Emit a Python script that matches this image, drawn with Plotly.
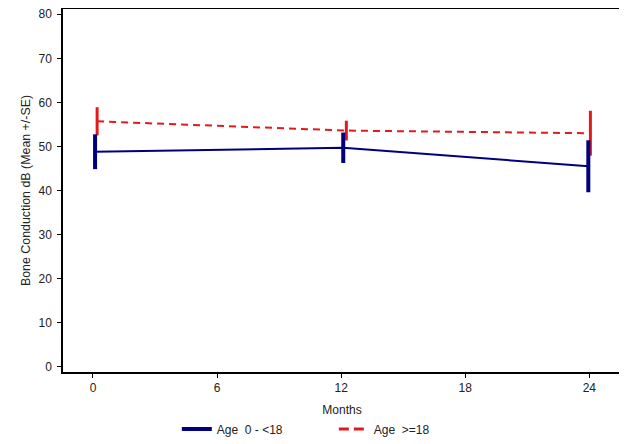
import plotly.graph_objects as go

months_young = [0.1, 12.1, 23.95]
mean_young = [48.8, 49.7, 45.5]
se_young = [3.95, 3.45, 5.9]

months_adult = [0.2, 12.25, 24.05]
mean_adult = [55.7, 53.6, 53.0]
se_adult = [3.2, 2.25, 5.1]

x_ticks = [0, 6, 12, 18, 24]
y_ticks = [0, 10, 20, 30, 40, 50, 60, 70, 80]

NAVY = "#00007F"
RED = "#E31A1C"
FONT = "Liberation Sans Narrow, Arial Narrow, Liberation Sans, Arial, sans-serif"

fig = go.Figure()

fig.add_trace(go.Scatter(
    x=months_adult, y=mean_adult, mode="lines", showlegend=False,
    line=dict(color=RED, width=2, dash="7px,5px"),
    error_y=dict(type="data", array=se_adult, color=RED, thickness=3, width=0),
))
fig.add_trace(go.Scatter(
    x=months_young, y=mean_young, mode="lines", showlegend=False,
    line=dict(color=NAVY, width=2),
    error_y=dict(type="data", array=se_young, color=NAVY, thickness=4, width=0),
))
# legend entries
fig.add_trace(go.Scatter(
    x=[None], y=[None], mode="lines", name="Age  0 - <18",
    line=dict(color=NAVY, width=4),
))
fig.add_trace(go.Scatter(
    x=[None], y=[None], mode="lines", name="Age  >=18",
    line=dict(color=RED, width=3, dash="10px,5px"),
))

# page body adds an 8px offset, so the figure is sized to fit the window
fig.update_layout(
    width=619, height=436,
    margin=dict(l=55, r=6, t=1, b=72),
    paper_bgcolor="white", plot_bgcolor="white",
    font=dict(family=FONT, size=12, color="#222"),
    legend=dict(
        orientation="h", x=0.204, xanchor="left", y=-0.157, yanchor="middle",
        font=dict(family=FONT, size=12), entrywidth=112,
        bgcolor="rgba(0,0,0,0)",
    ),
)
fig.update_xaxes(
    range=[-1.45, 25.53], tickvals=x_ticks, ticks="outside", ticklen=4,
    tickcolor="black", showline=True, linecolor="black", linewidth=1.5,
    mirror=True, showgrid=False, zeroline=False, automargin=False,
    title=dict(text="Months", font=dict(family=FONT, size=12), standoff=11),
    tickfont=dict(family=FONT, size=12), ticklabeloverflow="allow",
)
fig.update_yaxes(
    range=[-1.2, 81.2], tickvals=y_ticks, ticks="outside", ticklen=4,
    tickcolor="black", showline=True, linecolor="black", linewidth=1.5,
    mirror=True, showgrid=False, zeroline=False, automargin=False,
    title=dict(text="Bone Conduction dB (Mean +/-SE)",
               font=dict(family="Liberation Sans, Arial, sans-serif", size=12.4), standoff=5),
    tickfont=dict(family=FONT, size=12), ticklabelstandoff=3,
    ticklabeloverflow="allow",
)

fig.write_html("out.html")
